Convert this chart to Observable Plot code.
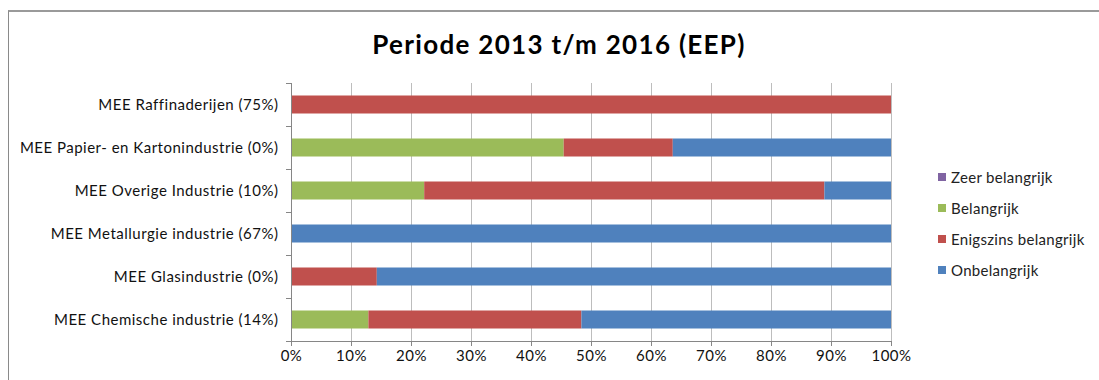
<!DOCTYPE html>
<html>
<head>
<meta charset="utf-8">
<script src="https://cdn.jsdelivr.net/npm/d3@7"></script>
<script src="https://cdn.jsdelivr.net/npm/@observablehq/plot@0.6"></script>
<style>
  html, body { margin: 0; padding: 0; background: #fff; }
  #chart { position: relative; width: 1099px; height: 380px; overflow: hidden; font-family: Lato, "Liberation Sans", Arial, sans-serif; }
  #frame { position: absolute; left: 8px; top: 10px; width: 1110px; height: 400px; border: 1px solid #8a8a8a; border-top: 2px solid #9a9a9a; box-sizing: border-box; }
  #title { position: absolute; left: 8px; width: 1102px; top: 28px; text-align: center; font-size: 26px; letter-spacing: 1.3px; font-weight: bold; color: #000; }
  #plot { position: absolute; left: 0; top: 0; }
  #legend { position: absolute; left: 938px; top: 161px; font-size: 15px; letter-spacing: 0.3px; color: #222; }
  #legend .item { display: flex; align-items: center; height: 31px; line-height: 18px; }
  #legend .sw { width: 8px; height: 8px; margin-right: 5px; }
  #plot svg text { letter-spacing: 0.5px; }
</style>
</head>
<body>
<div id="chart">
  <div id="frame"></div>
  <div id="title">Periode 2013 t/m 2016 (EEP)</div>
  <div id="plot"></div>
  <div id="legend"></div>
</div>
<script>
// Sectors, top to bottom
const categories = [
  "MEE Raffinaderijen (75%)",
  "MEE Papier- en Kartonindustrie (0%)",
  "MEE Overige Industrie (10%)",
  "MEE Metallurgie industrie (67%)",
  "MEE Glasindustrie (0%)",
  "MEE Chemische industrie (14%)"
];

// Response categories (stack order, left to right)
const seriesNames = ["Zeer belangrijk", "Belangrijk", "Enigszins belangrijk", "Onbelangrijk"];
const seriesColors = ["#8064A2", "#9BBB59", "#C0504D", "#4F81BD"];

// Share per sector (percent), aligned with categories
const zeerBelangrijk      = [0, 0,     0,    0,   0,    0];
const belangrijk          = [0, 45.45, 22.2, 0,   0,    12.9];
const enigszinsBelangrijk = [100, 18.18, 66.7, 0, 14.3, 35.5];
const onbelangrijk        = [0, 36.37, 11.1, 100, 85.7, 51.6];

const xTicks = [0, 10, 20, 30, 40, 50, 60, 70, 80, 90, 100];

const seriesValues = [zeerBelangrijk, belangrijk, enigszinsBelangrijk, onbelangrijk];
const rows = [];
seriesNames.forEach((s, si) => {
  categories.forEach((c, ci) => {
    rows.push({category: c, series: s, value: seriesValues[si][ci]});
  });
});

const font = "Lato, Liberation Sans, Arial, sans-serif";
const chart = Plot.plot({
  width: 1099,
  height: 380,
  marginLeft: 291,
  marginRight: 208,
  marginTop: 83,
  marginBottom: 39,
  style: {fontFamily: font, fontSize: "15px", color: "#000", background: "transparent"},
  x: {domain: [0, 100], ticks: xTicks, label: null},
  y: {domain: categories, padding: 0, label: null},
  color: {domain: seriesNames, range: seriesColors},
  marks: [
    Plot.gridX(xTicks, {stroke: "#bdbdbd", strokeOpacity: 1, strokeWidth: 1}),
    Plot.barX(rows, Plot.stackX({
      x: "value", y: "category", fill: "series", order: null,
      insetTop: 12.5, insetBottom: 12.5
    })),
    Plot.axisX(xTicks, {
      label: null, tickSize: 5, tickPadding: 4, stroke: "#868686",
      tickFormat: d => d + "%", fontSize: 15, fill: "#111"
    }),
    Plot.ruleY([0], {y: () => categories[categories.length - 1], dy: 21.5, stroke: "#868686"}),
    Plot.ruleX([0], {stroke: "#868686"}),
    Plot.axisY({label: null, tickSize: 0, tickPadding: 13, fontSize: 15, fill: "#111"}),
    Plot.axisY({label: null, tickSize: 5, tickFormat: null, text: null, stroke: "#868686", dy: 21.5}),
    Plot.axisY({label: null, tickSize: 5, tickFormat: null, text: null, stroke: "#868686", dy: -21.5})
  ]
});
document.getElementById("plot").appendChild(chart);

const legend = document.getElementById("legend");
seriesNames.forEach((s, i) => {
  const item = document.createElement("div");
  item.className = "item";
  const sw = document.createElement("div");
  sw.className = "sw";
  sw.style.background = seriesColors[i];
  const label = document.createElement("span");
  label.textContent = s;
  item.appendChild(sw);
  item.appendChild(label);
  legend.appendChild(item);
});
</script>
</body>
</html>
